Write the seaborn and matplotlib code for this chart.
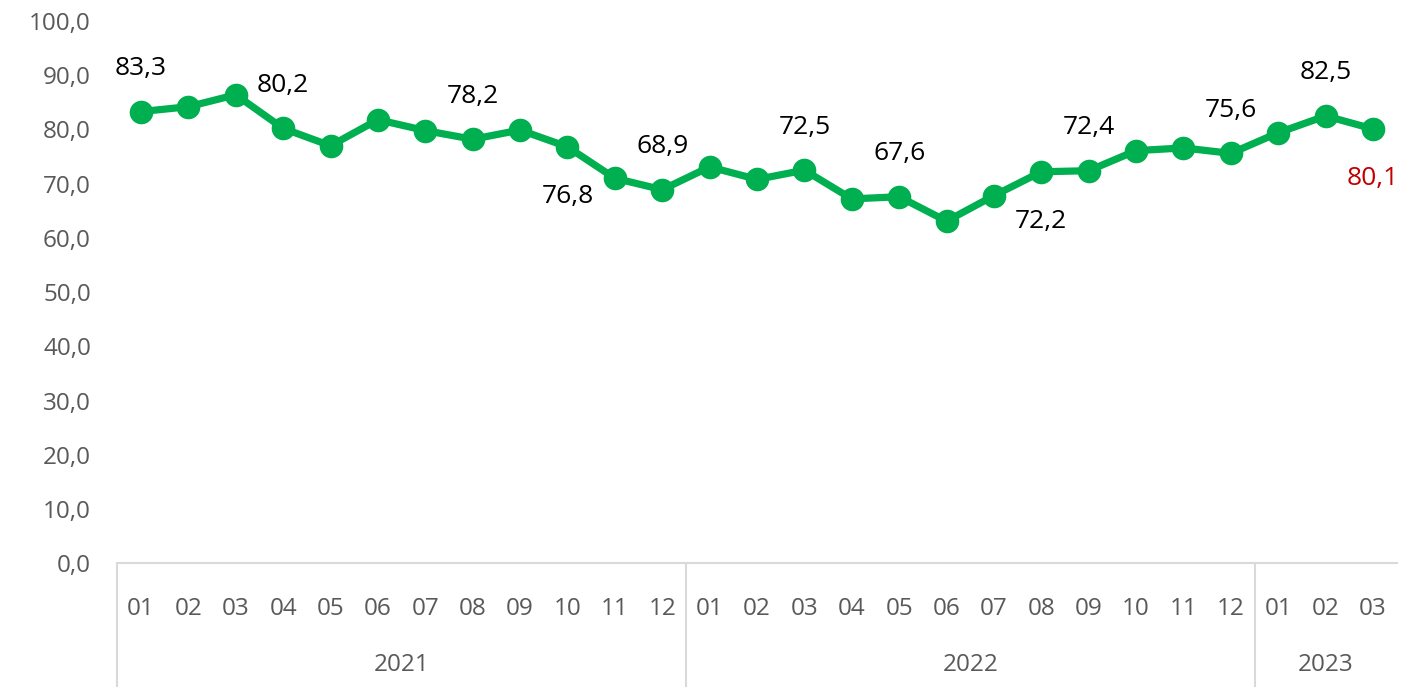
import matplotlib
matplotlib.use("Agg")
import matplotlib.pyplot as plt
import matplotlib.transforms as mtransforms
import seaborn as sns
import pandas as pd

# data
years = ["2021"] * 12 + ["2022"] * 12 + ["2023"] * 3
months = ["01", "02", "03", "04", "05", "06", "07", "08", "09", "10", "11", "12",
          "01", "02", "03", "04", "05", "06", "07", "08", "09", "10", "11", "12",
          "01", "02", "03"]
values = [83.3, 84.2, 86.4, 80.2, 77.0, 81.8, 79.8, 78.2, 79.9, 76.8, 71.0, 68.9,
          73.1, 70.8, 72.5, 67.2, 67.6, 63.1, 67.8, 72.2, 72.4, 76.1, 76.6, 75.6,
          79.4, 82.5, 80.1]
# which points carry a data label and where it sits
label_pos = {0: "above", 3: "above", 7: "above", 9: "below", 11: "above",
             14: "above", 16: "above", 19: "below", 20: "above", 23: "above",
             25: "above", 26: "below"}

df = pd.DataFrame({"idx": range(len(values)), "year": years,
                   "month": months, "value": values})

sns.set_theme(style="white")
plt.rcParams["font.family"] = ["Open Sans", "DejaVu Sans"]

green = "#00B050"
grey_txt = "#595959"
axis_grey = "#D9D9D9"

fig = plt.figure(figsize=(14.08, 6.87), dpi=100)
ax = fig.add_axes([0.0833, 0.18, 0.9087, 0.7894])

sns.lineplot(data=df, x="idx", y="value", ax=ax, color=green, linewidth=5.2,
             marker="o", markersize=17, markeredgewidth=0, clip_on=False)

ax.set_xlim(-0.5, len(values) - 0.5)
ax.set_ylim(0, 100)
ax.set_yticks(range(0, 101, 10))
ax.set_yticklabels([f"{v:.1f}".replace(".", ",") for v in range(0, 101, 10)],
                   fontsize=17.5, color=grey_txt)
ax.tick_params(axis="y", length=0, pad=19)
ax.set_xticks(df["idx"])
ax.set_xticklabels(months, fontsize=17.5, color=grey_txt)
ax.tick_params(axis="x", length=0, pad=24)
ax.set_xlabel("")
ax.set_ylabel("")

for side in ["left", "right", "top"]:
    ax.spines[side].set_visible(False)
ax.spines["bottom"].set_color(axis_grey)
ax.spines["bottom"].set_linewidth(1.5)

# data labels
for i, pos in label_pos.items():
    col = "#C00000" if i == len(values) - 1 else "black"
    dy = 31 if pos == "above" else -36
    ax.annotate(f"{values[i]:.1f}".replace(".", ","), (i, values[i]),
                xytext=(0, dy), textcoords="offset points", ha="center",
                va="center", fontsize=19, color=col)

# two-level category axis: year separators and year labels
trans = mtransforms.blended_transform_factory(ax.transData, ax.transAxes)
y_bottom = -0.18 / 0.7894
groups = df.groupby("year", sort=True)["idx"].agg(["min", "max"])
bounds = [groups["min"].iloc[0] - 0.5] + list(groups["max"] + 0.5)
for b in bounds[:-1]:
    ax.plot([b, b], [0, y_bottom], transform=trans, color=axis_grey,
            linewidth=1.5, clip_on=False)
for yr, row in groups.iterrows():
    ax.text((row["min"] + row["max"]) / 2, -0.187, yr, transform=trans,
            ha="center", va="center", fontsize=17.5, color=grey_txt)

fig.savefig("out.png", dpi=100)
